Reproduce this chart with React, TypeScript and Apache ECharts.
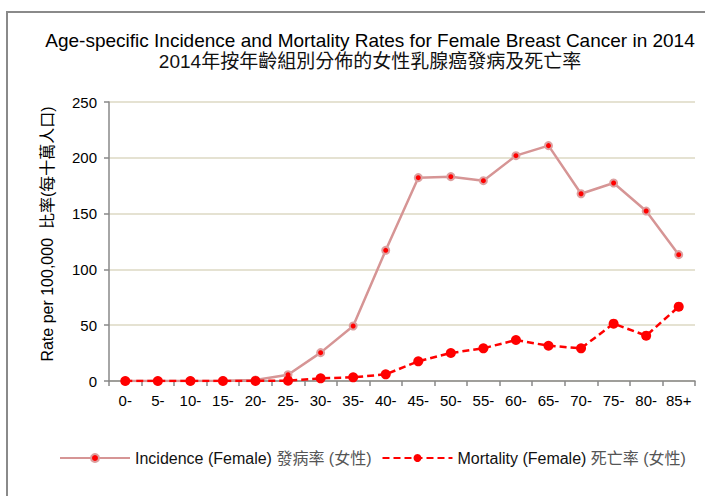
import React, { useEffect, useRef } from "react";
import * as echarts from "echarts";

const categories = ["0-", "5-", "10-", "15-", "20-", "25-", "30-", "35-", "40-", "45-", "50-", "55-", "60-", "65-", "70-", "75-", "80-", "85+"];
const incidence = [0, 0, 0.1, 0.3, 0.8, 5.6, 25.4, 49.3, 117.1, 182.2, 183.1, 179.5, 201.9, 210.9, 167.8, 177.4, 152.3, 113.2];
const mortality = [0, 0, 0, 0, 0.1, 0.3, 2.4, 3.3, 6.0, 17.6, 25.1, 29.3, 36.7, 31.6, 29.3, 51.4, 40.6, 66.6];
const yTicks = { min: 0, max: 250, interval: 50 };
const titleLine1 = "Age-specific Incidence and Mortality Rates for Female Breast Cancer in 2014";
const titleLine2 = "2014年按年齡組別分佈的女性乳腺癌發病及死亡率";
const yName = ["Rate per 100,000", "比率(每十萬人口)"];
const seriesNames = ["Incidence (Female) 發病率 (女性)", "Mortality (Female) 死亡率 (女性)"];

const FONT = "'Liberation Sans', Arial, 'Noto Sans CJK TC', sans-serif";

export default function App() {
  const ref = useRef<HTMLDivElement>(null);
  useEffect(() => {
    if (!ref.current) return;
    const chart = echarts.init(ref.current, null, { renderer: "svg" });
    chart.setOption({
      animation: false,
      backgroundColor: "#ffffff",
      textStyle: { fontFamily: FONT },
      graphic: [
        {
          type: "rect",
          shape: { x: 7, y: 12, width: 800, height: 600 },
          style: { fill: "none", stroke: "#8a8a8a", lineWidth: 2 },
          silent: true,
        },
        {
          type: "text",
          x: 370,
          y: 40,
          style: {
            text: titleLine1,
            textAlign: "center",
            textVerticalAlign: "middle",
            font: `19px ${FONT}`,
            fill: "#000",
          },
        },
        {
          type: "text",
          x: 370,
          y: 61,
          style: {
            text: titleLine2,
            textAlign: "center",
            textVerticalAlign: "middle",
            font: `19px ${FONT}`,
            fill: "#111",
          },
        },
        {
          type: "text",
          x: 47,
          y: 234,
          rotation: Math.PI / 2,
          style: {
            text: `{a|${yName[0]}}  {b|${yName[1]}}`,
            textAlign: "center",
            textVerticalAlign: "middle",
            font: `16px ${FONT}`,
            fill: "#000",
            rich: {
              a: { fontSize: 16, fontFamily: FONT, color: "#000" },
              b: { fontSize: 16, fontFamily: FONT, color: "#555" },
            },
          },
        },
      ],
      legend: {
        left: 59,
        top: 450,
        padding: 0,
        itemWidth: 70,
        itemHeight: 10,
        itemGap: 10,
        textStyle: {
          fontSize: 16,
          fontFamily: FONT,
          color: "#111",
          rich: {
            a: { fontSize: 16, fontFamily: FONT, color: "#111" },
            b: { fontSize: 16, fontFamily: FONT, color: "#555" },
          },
        },
        formatter: (name: string) => {
          const idx = name.indexOf(")") + 1;
          return `{a|${name.slice(0, idx)}} {b|${name.slice(idx + 1)}}`;
        },
        data: seriesNames,
      },
      grid: { left: 109, right: 10, top: 102, bottom: 115, containLabel: false },
      xAxis: {
        type: "category",
        data: categories,
        boundaryGap: true,
        axisLine: { lineStyle: { color: "#888", width: 1.5 } },
        axisTick: { show: true, length: 5, alignWithLabel: false, lineStyle: { color: "#888", width: 1.5 } },
        axisLabel: { color: "#000", fontSize: 15, margin: 12, interval: 0, fontFamily: FONT },
        splitLine: { show: false },
      },
      yAxis: {
        type: "value",
        min: yTicks.min,
        max: yTicks.max,
        interval: yTicks.interval,
        axisLine: { show: true, lineStyle: { color: "#888", width: 1.5 } },
        axisTick: { show: true, length: 5, lineStyle: { color: "#888", width: 1.5 } },
        axisLabel: { color: "#000", fontSize: 15, margin: 12, fontFamily: FONT },
        splitLine: { show: true, lineStyle: { color: "#DDD9C3", width: 1.5 } },
      },
      series: [
        {
          name: seriesNames[0],
          type: "line",
          data: incidence,
          symbol: "circle",
          symbolSize: 7,
          lineStyle: { color: "#D69595", width: 2.5 },
          itemStyle: { color: "#FF0000", borderColor: "#DCA0A0", borderWidth: 2 },
          z: 2,
        },
        {
          name: seriesNames[1],
          type: "line",
          data: mortality,
          symbol: "circle",
          symbolSize: 10,
          lineStyle: { color: "#FF0000", width: 2.5, type: [7, 4] },
          itemStyle: { color: "#FF0000", borderWidth: 0 },
          z: 3,
        },
      ],
    });
    return () => chart.dispose();
  }, []);
  return (
    <div
      ref={ref}
      style={{ position: "fixed", left: 0, top: 0, width: 705, height: 496 }}
    />
  );
}
